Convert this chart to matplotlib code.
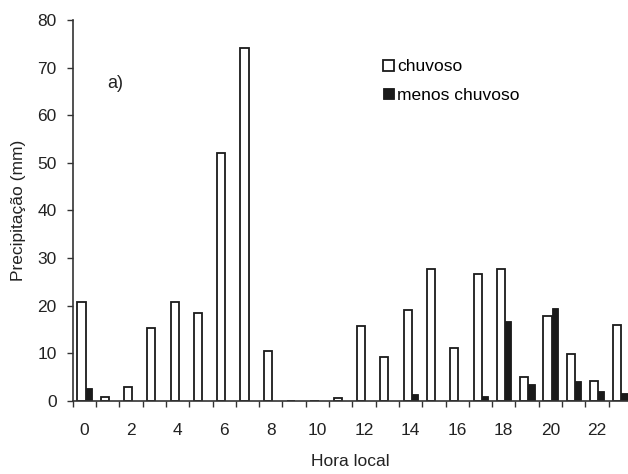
import numpy as np
import matplotlib.pyplot as plt

plt.rcParams['font.family'] = ['Liberation Sans', 'DejaVu Sans']

# Hourly precipitation totals (mm)
hours = list(range(24))
chuvoso = [20.7, 0.9, 2.9, 15.3, 20.7, 18.5, 52.0, 74.1, 10.6, 0.0, 0.0, 0.7,
           15.7, 9.3, 19.2, 27.8, 11.2, 26.6, 27.8, 5.1, 17.9, 9.9, 4.1, 16.0]
menos_chuvoso = [2.7, 0, 0, 0, 0, 0, 0, 0, 0, 0, 0, 0,
                 0, 0, 1.4, 0, 0, 1.1, 16.7, 3.6, 19.6, 4.3, 2.0, 1.7]
tick_labels = [str(h) for h in range(0, 24, 2)]

axis_color = '#333333'
text_color = '#222222'
fs = 12.5

fig = plt.figure(figsize=(6.28, 4.74), dpi=100)
ax = fig.add_axes([0.1158, 0.154, 0.8842, 0.804])

x = np.array(hours)
ax.bar(x - 0.125, chuvoso, width=0.35, facecolor='white', edgecolor='#1a1a1a',
       linewidth=1.3, label='chuvoso', zorder=2)
ax.bar(x + 0.185, menos_chuvoso, width=0.27, facecolor='#1a1a1a', edgecolor='#1a1a1a',
       linewidth=0.6, label='menos chuvoso', zorder=2)

ax.set_xlim(-0.5, 23.33)
ax.set_ylim(0, 80)
ax.set_yticks(range(0, 81, 10))
ax.set_xticks(range(0, 24, 2))
ax.set_xticklabels(tick_labels)
ax.set_xticks(np.arange(-0.5, 23.5, 1), minor=True)
ax.tick_params(axis='x', which='major', length=0, pad=16, labelsize=fs, colors=text_color)
ax.tick_params(axis='x', which='minor', length=4.5, width=1, color=axis_color, direction='out')
ax.tick_params(axis='y', length=4.5, width=1, color=axis_color, labelsize=fs,
               labelcolor=text_color, pad=7)

for side in ['top', 'right']:
    ax.spines[side].set_visible(False)
for side in ['left', 'bottom']:
    ax.spines[side].set_color(axis_color)
    ax.spines[side].set_linewidth(1.2)

ax.set_xlabel('Hora local', fontsize=fs, color=text_color, labelpad=11)
ax.set_ylabel('Precipitação (mm)', fontsize=fs, color=text_color, labelpad=8)

ax.text(0.97, 65.7, 'a)', fontsize=fs + 0.5, color=text_color, va='baseline')

ax.legend(loc='upper left', bbox_to_anchor=(0.559, 0.897), frameon=False,
          fontsize=fs, handlelength=0.6, handleheight=0.6, handletextpad=0.2,
          labelspacing=0.8, borderpad=0, borderaxespad=0)

fig.savefig('out.png', dpi=100)
